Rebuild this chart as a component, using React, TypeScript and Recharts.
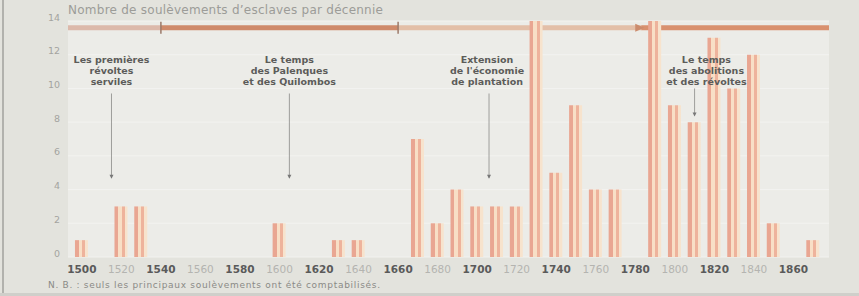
import { BarChart, Bar, XAxis, YAxis, CartesianGrid, ReferenceLine, ReferenceDot } from "recharts";

const decades = [
  1500, 1510, 1520, 1530, 1540, 1550, 1560, 1570, 1580, 1590, 1600, 1610, 1620, 1630, 1640, 1650, 1660, 1670, 1680,
  1690, 1700, 1710, 1720, 1730, 1740, 1750, 1760, 1770, 1780, 1790, 1800, 1810, 1820, 1830, 1840, 1850, 1860, 1870,
];
const revolts = [1, 0, 3, 3, 0, 0, 0, 0, 0, 0, 2, 0, 0, 1, 1, 0, 0, 7, 2, 4, 3, 3, 3, 14, 5, 9, 4, 4, 0, 14, 9, 8, 13, 10, 12, 2, 0, 1];

const xTicks = [1500, 1520, 1540, 1560, 1580, 1600, 1620, 1640, 1660, 1680, 1700, 1720, 1740, 1760, 1780, 1800, 1820, 1840, 1860];
const boldTicks = [1500, 1540, 1580, 1620, 1660, 1700, 1740, 1780, 1820, 1860];
const yTicks = [0, 2, 4, 6, 8, 10, 12, 14];

// bande des périodes en haut du graphique
const periodStart = [1493, 1540, 1660, 1783];
const periodEnd = [1540, 1660, 1783, 1878];
const periodColor = ["#dcb9ab", "#cf8b6c", "#e3bfa8", "#d9916f"];
const periodY = 13.6;
const periodMarks = [1540, 1660];

// annotations
const noteLines = [
  ["Les premières", "révoltes", "serviles"],
  ["Le temps", "des Palenques", "et des Quilombos"],
  ["Extension", "de l'économie", "de plantation"],
  ["Le temps", "des abolitions", "et des révoltes"],
];
const noteX = [1515, 1605, 1705, 1816];
const noteY = 11.7;
const arrowX = [1515, 1605, 1706, 1810];
const arrowTop = [9.7, 9.7, 9.7, 10.0];
const arrowBottom = [4.7, 4.7, 4.7, 8.4];

const data = decades.map((d, i) => ({ decade: d, count: revolts[i] }));

const FONT = "'DejaVu Sans', sans-serif";

const XTick = ({ x, y, payload }: any) => {
  const bold = boldTicks.includes(payload.value);
  return (
    <text
      x={x}
      y={y}
      dy={8}
      textAnchor="middle"
      fontFamily={FONT}
      fontSize={10.5}
      fontWeight={bold ? 700 : 400}
      fill={bold ? "#5a5a5a" : "#b4b4b0"}
    >
      {payload.value}
    </text>
  );
};

const YTick = ({ x, y, payload }: any) => (
  <text x={x} y={y} dy={-0.5} textAnchor="end" fontFamily={FONT} fontSize={9.5} fill="#a3a3a0">
    {payload.value}
  </text>
);

const noteShape = (lines: string[]) => (props: any) => (
  <text
    x={props.cx}
    y={props.cy}
    textAnchor="middle"
    fontFamily={FONT}
    fontSize={9.5}
    fontWeight={700}
    fill="#5c5c5a"
  >
    {lines.map((l, i) => (
      <tspan key={i} x={props.cx} dy={i === 0 ? 3.4 : 11}>
        {l}
      </tspan>
    ))}
  </text>
);

const arrowHead = (props: any) => (
  <path d={`M${props.cx - 2},${props.cy - 3} L${props.cx + 2},${props.cy - 3} L${props.cx},${props.cy + 1} Z`} fill="#777" />
);

const bandArrow = (props: any) => (
  <path d={`M${props.cx - 6},${props.cy - 4} L${props.cx + 3},${props.cy} L${props.cx - 6},${props.cy + 4} Z`} fill="#cc8c6e" />
);

export default function App() {
  return (
    <div style={{ position: "absolute", left: 0, top: 0, width: 859, height: 296, background: "#e3e3dd", overflow: "hidden" }}>
      <div style={{ position: "absolute", left: 2, top: 0, width: 2, height: 296, background: "#b2b2ad" }} />
      <div style={{ position: "absolute", left: 0, top: 293, width: 859, height: 3, background: "#cfcfca" }} />
      <div
        style={{
          position: "absolute",
          left: 68,
          top: 3,
          fontFamily: FONT,
          fontSize: 12,
          letterSpacing: 0.25,
          lineHeight: "14px",
          color: "#9c9c98",
          whiteSpace: "nowrap",
        }}
      >
        Nombre de soulèvements d’esclaves par décennie
      </div>
      <div
        style={{
          position: "absolute",
          left: 48,
          top: 280,
          fontFamily: FONT,
          fontSize: 9,
          letterSpacing: 0.7,
          lineHeight: "11px",
          color: "#8a8a86",
          whiteSpace: "nowrap",
        }}
      >
        N. B. : seuls les principaux soulèvements ont été comptabilisés.
      </div>
      <div style={{ position: "absolute", left: 0, top: 0 }}>
        <BarChart width={859} height={296} data={data} margin={{ top: 21, right: 30, bottom: 0, left: 0 }}>
          <defs>
            <linearGradient id="stripes" x1="0" y1="0" x2="1" y2="0">
              <stop offset="0%" stopColor="#e9a692" />
              <stop offset="30%" stopColor="#e9a692" />
              <stop offset="30%" stopColor="#f8dfc6" />
              <stop offset="55%" stopColor="#f8dfc6" />
              <stop offset="55%" stopColor="#eeb39c" />
              <stop offset="78%" stopColor="#eeb39c" />
              <stop offset="78%" stopColor="#f7e3cd" />
              <stop offset="100%" stopColor="#f7e3cd" />
            </linearGradient>
          </defs>
          <CartesianGrid vertical={false} stroke="#f3f3f0" strokeWidth={1} fill="#ececE8" />
          <XAxis
            type="number"
            dataKey="decade"
            domain={[1493, 1878]}
            ticks={xTicks}
            interval={0}
            axisLine={false}
            tickLine={false}
            height={39}
            tick={<XTick />}
            allowDataOverflow
          />
          <YAxis
            domain={[0, 14]}
            ticks={yTicks}
            interval={0}
            axisLine={false}
            tickLine={false}
            width={68}
            tick={<YTick />}
            allowDataOverflow
          />
          {periodStart.map((s, i) => (
            <ReferenceLine
              key={"p" + i}
              segment={[
                { x: s, y: periodY },
                { x: periodEnd[i], y: periodY },
              ]}
              stroke={periodColor[i]}
              strokeWidth={5}
              zIndex={100}
            />
          ))}
          {periodMarks.map((m) => (
            <ReferenceLine
              key={"m" + m}
              segment={[
                { x: m, y: periodY - 0.35 },
                { x: m, y: periodY + 0.35 },
              ]}
              stroke="#9c7a6a"
              strokeWidth={1.5}
              zIndex={100}
            />
          ))}
          <ReferenceDot x={1783} y={periodY} r={4} shape={bandArrow} zIndex={100} />
          {arrowX.map((a, i) => (
            <ReferenceLine
              key={"a" + i}
              segment={[
                { x: a, y: arrowTop[i] },
                { x: a, y: arrowBottom[i] },
              ]}
              stroke="#8a8a88"
              strokeWidth={0.8}
            />
          ))}
          <Bar dataKey="count" barSize={13} fill="url(#stripes)" isAnimationActive={false} />
          {arrowX.map((a, i) => (
            <ReferenceDot key={"h" + i} x={a} y={arrowBottom[i]} r={2} shape={arrowHead} zIndex={1000} />
          ))}
          {noteX.map((n, i) => (
            <ReferenceDot key={"n" + i} x={n} y={noteY} r={1} shape={noteShape(noteLines[i])} zIndex={1000} />
          ))}
        </BarChart>
      </div>
    </div>
  );
}
